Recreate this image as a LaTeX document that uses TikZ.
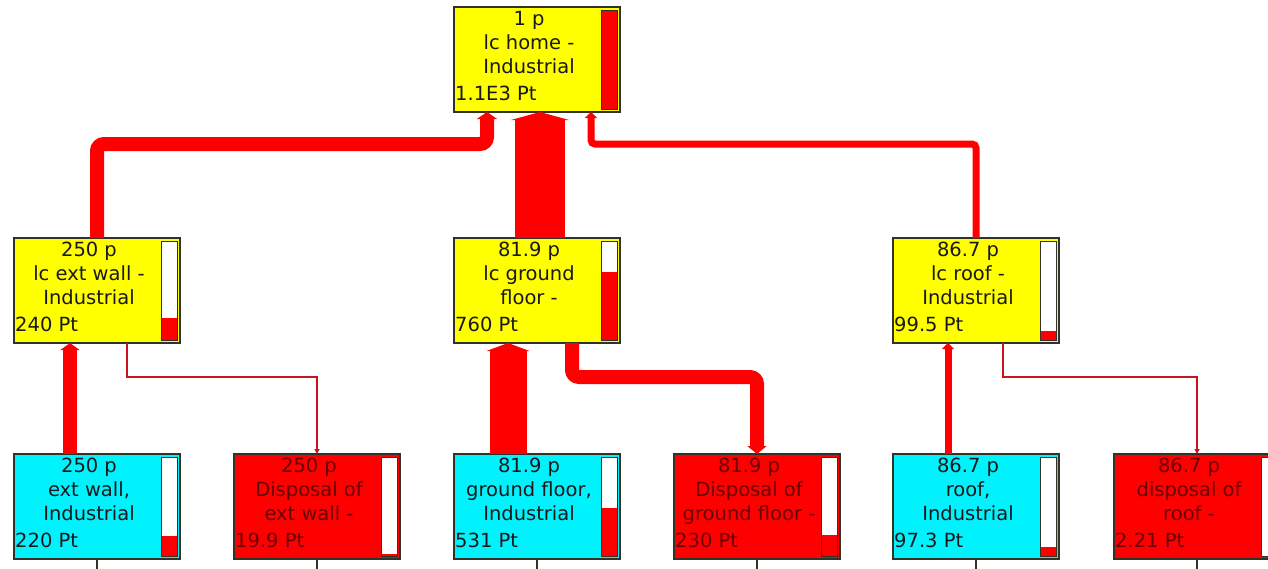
\documentclass[tikz,border=0pt]{standalone}
\usepackage{fontspec}
\setmainfont{DejaVu Sans}
\usetikzlibrary{arrows.meta}

\definecolor{boxyellow}{RGB}{255,255,0}
\definecolor{boxcyan}{RGB}{0,242,252}
\definecolor{boxred}{RGB}{255,0,0}
\definecolor{flowred}{RGB}{255,0,0}
\definecolor{linkred}{RGB}{200,20,30}
\definecolor{edge}{RGB}{50,50,40}
\definecolor{redtext}{RGB}{105,0,0}

\tikzset{
  box/.style={draw=edge, line width=1.3pt, minimum width=166pt, minimum height=105pt,
              anchor=north west, inner sep=0pt, outer sep=0pt},
  ybox/.style={box, fill=boxyellow},
  cbox/.style={box, fill=boxcyan},
  rbox/.style={box, fill=boxred},
  ybox text/.style={text=black!90},
  cbox text/.style={text=black!90},
  rbox text/.style={text=redtext},
  txt/.style={inner sep=0pt, font=\fontsize{19.5}{24}\selectfont},
  bar/.style={minimum width=16pt, minimum height=99pt, anchor=north east,
              inner sep=0pt, outer sep=0pt, fill=white},
  flow/.style={draw=flowred, line cap=butt, line join=miter},
  link/.style={draw=linkred, line width=1.3pt, -{Triangle[width=5pt,length=5pt]}},
  stub/.style={draw=edge, line width=1.2pt},
}

% #1 name, #2 left, #3 top, #4 box style, #5-#7 centred lines, #8 score, #9 bar fraction
\newcommand\procbox[9]{%
  \node[#4] (#1) at (#2,#3) {};
  \node[bar] (#1-bar) at ([xshift=-3pt,yshift=-3pt]#1.north east) {};
  \fill[flowred] (#1-bar.south west) rectangle ([yshift=#9*99pt]#1-bar.south east);
  \draw[edge, line width=1pt] (#1-bar.south west) rectangle (#1-bar.north east);
  \node[txt, #4 text, anchor=mid] (#1-a) at ([xshift=75pt,yshift=-16pt]#1.north west) {#5};
  \node[txt, #4 text, anchor=mid] (#1-b) at ([xshift=75pt,yshift=-40pt]#1.north west) {#6};
  \node[txt, #4 text, anchor=mid] (#1-c) at ([xshift=75pt,yshift=-64pt]#1.north west) {#7};
  \node[txt, #4 text, anchor=mid west] (#1-d) at ([xshift=1pt,yshift=-91pt]#1.north west) {#8};
}

\begin{document}
\begin{tikzpicture}[x=1pt,y=-1pt]
  \useasboundingbox (0,0) rectangle (1268,568);
  \clip (0,0) rectangle (1268,568);
  \fill[white] (0,0) rectangle (1268,568);

  \coordinate (ybus) at (0,144);
  \coordinate (lbus) at (0,377);
  \coordinate (bottom) at (0,570);

  % process boxes
  \procbox{top}{454}{7}{ybox}{1 p}{lc home -}{Industrial}{1.1E3 Pt}{1}
  \procbox{mwall}{14}{238}{ybox}{250 p}{lc ext wall -}{Industrial}{240 Pt}{0.218}
  \procbox{mgf}{454}{238}{ybox}{81.9 p}{lc ground}{floor -}{760 Pt}{0.69}
  \procbox{mroof}{893}{238}{ybox}{86.7 p}{lc roof -}{Industrial}{99.5 Pt}{0.09}
  \procbox{bwall}{14}{454}{cbox}{250 p}{ext wall,}{Industrial}{220 Pt}{0.2}
  \procbox{dwall}{234}{454}{rbox}{250 p}{Disposal of}{ext wall -}{19.9 Pt}{0.018}
  \procbox{bgf}{454}{454}{cbox}{81.9 p}{ground floor,}{Industrial}{531 Pt}{0.483}
  \procbox{dgf}{674}{454}{rbox}{81.9 p}{Disposal of}{ground floor -}{230 Pt}{0.209}
  \procbox{broof}{893}{454}{cbox}{86.7 p}{roof,}{Industrial}{97.3 Pt}{0.088}
  \procbox{droof}{1114}{454}{rbox}{86.7 p}{disposal of}{roof -}{2.21 Pt}{0.002}

  % flows into the home
  \draw[flow, line width=14pt, rounded corners=7pt, -{Triangle[width=20pt,length=7pt]}]
    (mwall.north) -- (mwall.north |- ybus) -- ([xshift=-50pt]top.south |- ybus) -- ([xshift=-50pt]top.south);
  \draw[flow, line width=50pt, -{Triangle[width=58pt,length=8pt]}]
    ([xshift=3pt]mgf.north) -- ([xshift=3pt]top.south);
  \draw[flow, line width=7pt, rounded corners=4pt, -{Triangle[width=12pt,length=6pt]}]
    (mroof.north) -- (mroof.north |- ybus) -- ([xshift=54pt]top.south |- ybus) -- ([xshift=54pt]top.south);

  % flows into the assemblies
  \draw[flow, line width=14pt, -{Triangle[width=19pt,length=7pt]}]
    ([xshift=-27pt]bwall.north) -- ([xshift=-27pt]mwall.south);
  \draw[flow, line width=37pt, -{Triangle[width=43pt,length=8pt]}]
    ([xshift=-29pt]bgf.north) -- ([xshift=-29pt]mgf.south);
  \draw[flow, line width=7pt, -{Triangle[width=12pt,length=6pt]}]
    ([xshift=-28pt]broof.north) -- ([xshift=-28pt]mroof.south);

  % flows to disposal
  \draw[link] ([xshift=30pt]mwall.south) -- ([xshift=30pt]mwall.south |- lbus) -- (dwall.north |- lbus) -- (dwall.north);
  \draw[flow, line width=14pt, rounded corners=7pt, -{Triangle[width=19pt,length=8pt]}]
    ([xshift=35pt]mgf.south) -- ([xshift=35pt]mgf.south |- lbus) -- (dgf.north |- lbus) -- (dgf.north);
  \draw[link] ([xshift=27pt]mroof.south) -- ([xshift=27pt]mroof.south |- lbus) -- (droof.north |- lbus) -- (droof.north);

  % stubs leaving the lower row
  \foreach \n in {bwall,dwall,bgf,dgf,broof,droof}
    \draw[stub] (\n.south) -- (\n.south |- bottom);
\end{tikzpicture}
\end{document}
